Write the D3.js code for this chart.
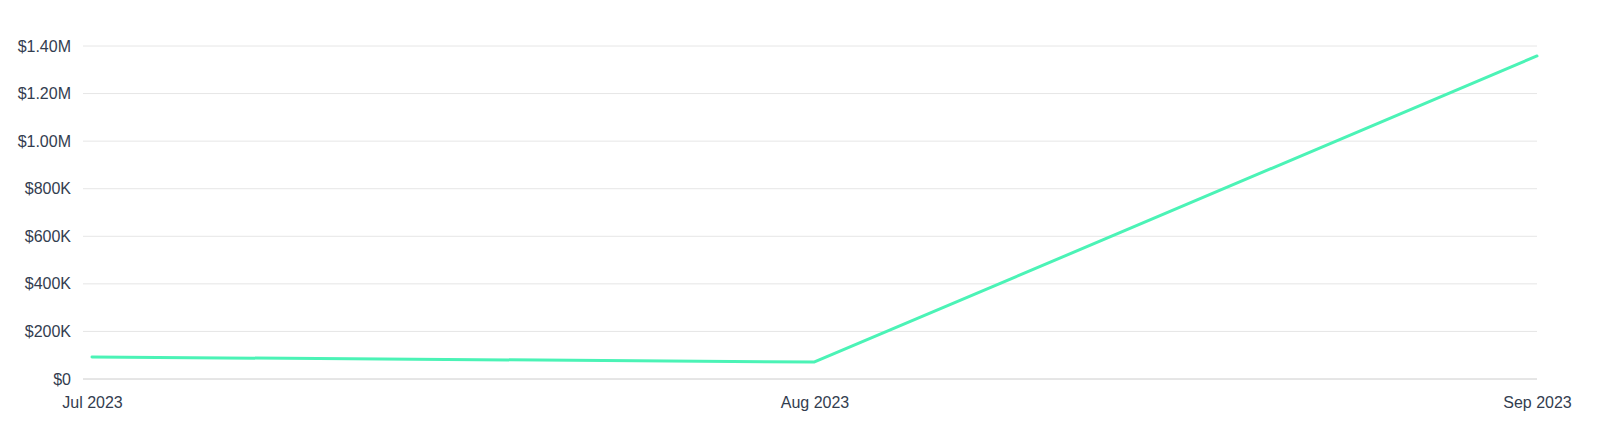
<!DOCTYPE html>
<html><head><meta charset="utf-8">
<script src="https://cdn.jsdelivr.net/npm/d3@7"></script>
<style>body{margin:0;background:#fff;} text{font-family:"Helvetica Neue",Helvetica,Arial,"Liberation Sans",sans-serif;}</style>
</head><body>
<svg id="c" width="1600" height="428"></svg>
<script>
const categories = ["Jul 2023", "Aug 2023", "Sep 2023"];
const values = [92500, 71500, 1358000];
const yTicks = [0, 200000, 400000, 600000, 800000, 1000000, 1200000, 1400000];

const svg = d3.select("#c");
const x = d3.scalePoint().domain(categories).range([92, 1537]);
const y = d3.scaleLinear().domain([0, 1400000]).range([379, 46]);
const fmt = v => v === 0 ? "$0" : (v >= 1e6 ? "$" + (v/1e6).toFixed(2) + "M" : "$" + (v/1e3) + "K");

// gridlines
svg.append("g").selectAll("line").data(yTicks).join("line")
  .attr("x1", 83).attr("x2", 1537)
  .attr("y1", d => y(d)).attr("y2", d => y(d))
  .attr("stroke", d => d === 0 ? "#cccccc" : "#e6e6e6").attr("stroke-width", 1);

const yAxis = svg.append("g").attr("transform", "translate(71,0)")
  .call(d3.axisLeft(y).tickValues(yTicks).tickFormat(fmt).tickSize(0).tickPadding(0));
yAxis.select(".domain").remove();
yAxis.selectAll("text").attr("fill", "#333d4f").attr("font-size", 16);

const xAxis = svg.append("g").attr("transform", "translate(0,379)")
  .call(d3.axisBottom(x).tickSize(0).tickPadding(18));
xAxis.select(".domain").remove();
xAxis.selectAll("text").attr("fill", "#333d4f").attr("font-size", 16);

svg.append("path").datum(values)
  .attr("d", d3.line().x((d, i) => x(categories[i])).y(d => y(d)))
  .attr("fill", "none").attr("stroke", "#4bf3b6").attr("stroke-width", 3)
  .attr("stroke-linecap", "round").attr("stroke-linejoin", "round");
</script>
</body></html>
